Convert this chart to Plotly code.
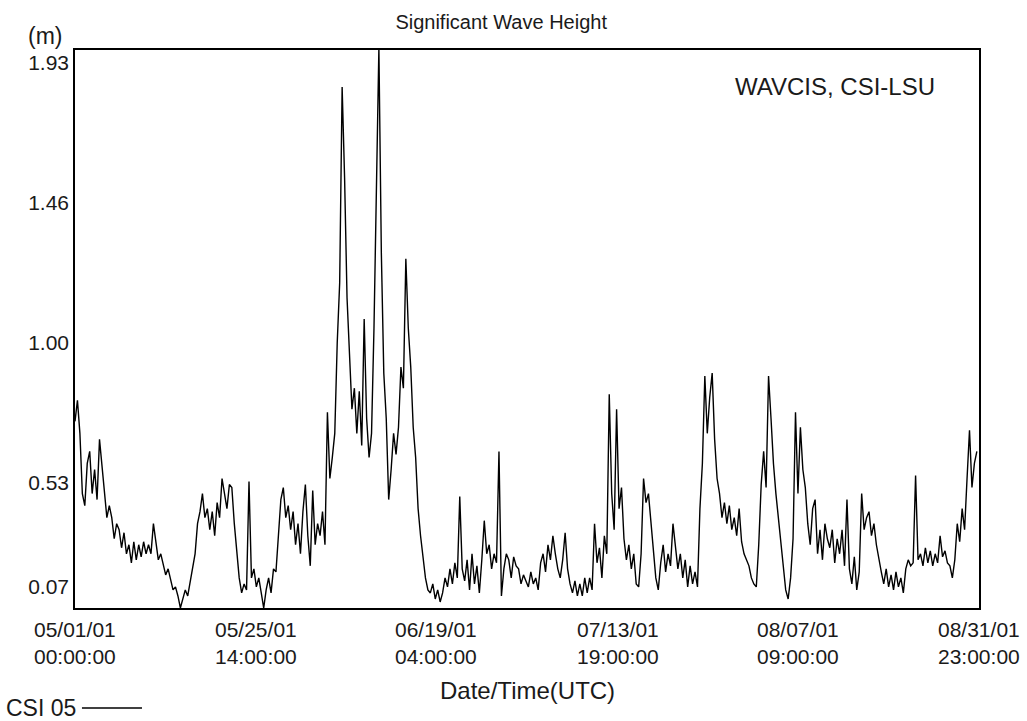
import pandas as pd
import plotly.graph_objects as go

# Significant wave height (m), sampled every 8 hours from 2001-05-01 00:00 UTC
wave_height = [
    0.74, 0.81, 0.70,  0.50, 0.46, 0.60,  0.64, 0.50, 0.58,  0.48, 0.68, 0.60,
    0.50, 0.42, 0.46,  0.42, 0.35, 0.40,  0.38, 0.32, 0.37,  0.30, 0.33, 0.27,
    0.34, 0.28, 0.33,  0.29, 0.34, 0.30,  0.33, 0.30, 0.40,  0.33, 0.28, 0.30,
    0.26, 0.23, 0.25,  0.21, 0.18, 0.19,  0.16, 0.12, 0.15,  0.18, 0.16, 0.21,
    0.25, 0.30, 0.40,  0.44, 0.50, 0.42,  0.45, 0.38, 0.44,  0.36, 0.47, 0.42,
    0.55, 0.50, 0.45, 0.53,  0.52, 0.40, 0.30,  0.22, 0.17, 0.20,  0.18, 0.54, 0.22,
    0.25, 0.19, 0.22,  0.17, 0.12, 0.18,  0.22, 0.17, 0.25,  0.24, 0.35, 0.48,
    0.52, 0.42, 0.46,  0.38, 0.44, 0.33,  0.40, 0.30, 0.44,  0.53, 0.36, 0.26,
    0.51, 0.33, 0.40,  0.36, 0.44, 0.33,  0.77, 0.55, 0.62,  0.70, 1.00, 1.20,
    1.85, 1.55, 1.15,  0.95, 0.78, 0.85,  0.70, 0.84, 0.66,  1.08, 0.75, 0.62,
    0.70, 1.05, 1.55,  1.98, 1.30, 0.90,  0.75, 0.48, 0.58,  0.70, 0.63, 0.72,
    0.92, 0.85, 1.28,  1.05, 0.92, 0.72,  0.62, 0.45, 0.36,  0.28, 0.22, 0.18,
    0.17, 0.20, 0.15,  0.18, 0.14, 0.17,  0.22, 0.19, 0.25,  0.20, 0.27, 0.22,
    0.49, 0.25, 0.21,  0.28, 0.18, 0.30,  0.20, 0.26, 0.17,  0.28, 0.41, 0.30,
    0.33, 0.25, 0.30,  0.27, 0.64, 0.16,  0.25, 0.30, 0.28,  0.22, 0.29, 0.26,
    0.25, 0.20, 0.23,  0.21,
    0.19, 0.24, 0.20,  0.22, 0.18, 0.27,  0.30, 0.24, 0.33,  0.28, 0.36, 0.30,
    0.25, 0.22, 0.28,  0.37, 0.25, 0.20,  0.17, 0.21, 0.16,  0.20, 0.16, 0.22,
    0.17, 0.22, 0.18,  0.40, 0.27, 0.32,  0.22, 0.36, 0.30,  0.83, 0.50, 0.38,
    0.78, 0.45, 0.52,  0.35, 0.28, 0.33,  0.25, 0.30, 0.20,  0.19, 0.30, 0.55,
    0.47, 0.50, 0.40,  0.30, 0.22, 0.18,  0.27, 0.33, 0.24,  0.30, 0.26, 0.40,
    0.32, 0.25, 0.30,  0.22, 0.28, 0.19,  0.26, 0.20, 0.24,  0.19, 0.45, 0.60,
    0.89, 0.70, 0.82,  0.90, 0.68, 0.55,  0.50, 0.42, 0.47,  0.40, 0.46, 0.38,
    0.42, 0.36, 0.45,  0.34, 0.30, 0.28,  0.26, 0.22, 0.20,  0.19, 0.33, 0.53,
    0.64, 0.52, 0.89,  0.75, 0.60, 0.50,  0.42, 0.33, 0.24,  0.18, 0.15, 0.22,
    0.35, 0.77, 0.50,  0.72, 0.58, 0.52,  0.40, 0.33, 0.45,  0.48, 0.30, 0.38,
    0.28, 0.40, 0.35, 0.32,  0.38, 0.27, 0.35,  0.30, 0.38, 0.26,  0.48, 0.25, 0.20,
    0.29, 0.18, 0.24,  0.50, 0.38, 0.42,  0.44, 0.36, 0.40,  0.33, 0.28, 0.24,
    0.20, 0.25, 0.19,  0.23, 0.18, 0.24,  0.19, 0.22, 0.17,  0.25, 0.28, 0.26,
    0.27, 0.56, 0.28,  0.30, 0.26, 0.32,  0.27, 0.31, 0.26,  0.30, 0.27, 0.36,
    0.29, 0.31, 0.27,  0.26, 0.22, 0.28,  0.40, 0.34, 0.45,  0.38, 0.55, 0.71,
    0.52, 0.60, 0.64,
]
times = pd.date_range("2001-05-01 00:00", periods=len(wave_height), freq="8h")

x_tick_vals = ["2001-05-01 00:00", "2001-05-25 14:00", "2001-06-19 04:00",
               "2001-07-13 19:00", "2001-08-07 09:00", "2001-08-31 23:00"]
x_tick_dates = ["05/01/01", "05/25/01", "06/19/01", "07/13/01", "08/07/01", "08/31/01"]
x_tick_times = ["00:00:00", "14:00:00", "04:00:00", "19:00:00", "09:00:00", "23:00:00"]
y_tick_vals = [0.19, 0.535, 1.0, 1.465, 1.93]
y_tick_text = ["0.07", "0.53", "1.00", "1.46", "1.93"]

FONT = "Liberation Sans, Arial, Helvetica, sans-serif"
TXT = "#1a1a1a"

fig = go.Figure()
fig.add_trace(go.Scatter(x=times, y=wave_height, mode="lines",
                         line=dict(color="black", width=1.4), name="CSI 05",
                         showlegend=False))

fig.update_layout(
    width=1027, height=721,
    margin=dict(l=75, r=48, t=50, b=113),
    paper_bgcolor="white", plot_bgcolor="white",
    font=dict(family=FONT, size=20, color=TXT),
    title=dict(text="Significant Wave Height", x=0.488, xref="container",
               y=0.9695, yref="container", xanchor="center", yanchor="middle",
               font=dict(size=20, color=TXT)),
    xaxis=dict(type="date", range=["2001-05-01 00:00", "2001-08-31 23:00"],
               tickvals=x_tick_vals, showticklabels=False, ticks="",
               showgrid=False, zeroline=False, showline=True, mirror=True,
               linecolor="black", linewidth=1.5),
    yaxis=dict(range=[0.120, 1.973], tickvals=y_tick_vals, ticktext=y_tick_text,
               ticks="", showgrid=False, zeroline=False, showline=True, mirror=True,
               linecolor="black", linewidth=1.5, tickfont=dict(size=21)),
)

for xv, d, t in zip(x_tick_vals, x_tick_dates, x_tick_times):
    fig.add_annotation(text=d + "<br>" + t, xref="x", yref="paper", x=xv, y=-0.0627,
                       showarrow=False, xanchor="center", yanchor="middle",
                       align="center", font=dict(size=21))

fig.add_annotation(text="(m)", xref="paper", yref="paper", x=-0.0332, y=1.0251,
                   showarrow=False, xanchor="center", yanchor="middle", font=dict(size=23))
fig.add_annotation(text="WAVCIS, CSI-LSU", xref="paper", yref="paper", x=0.8407, y=0.9337,
                   showarrow=False, xanchor="center", yanchor="middle", font=dict(size=24))
fig.add_annotation(text="Date/Time(UTC)", xref="paper", yref="paper", x=0.5011, y=-0.1487,
                   showarrow=False, xanchor="center", yanchor="middle", font=dict(size=24))
fig.add_annotation(text="CSI 05", xref="paper", yref="paper", x=0.003, y=-0.1792,
                   showarrow=False, xanchor="right", yanchor="middle", font=dict(size=23))
fig.add_shape(type="line", xref="paper", yref="paper", x0=0.0077, x1=0.0741,
              y0=-0.1792, y1=-0.1792, line=dict(color="black", width=1.5))

fig.write_html("out.html")
